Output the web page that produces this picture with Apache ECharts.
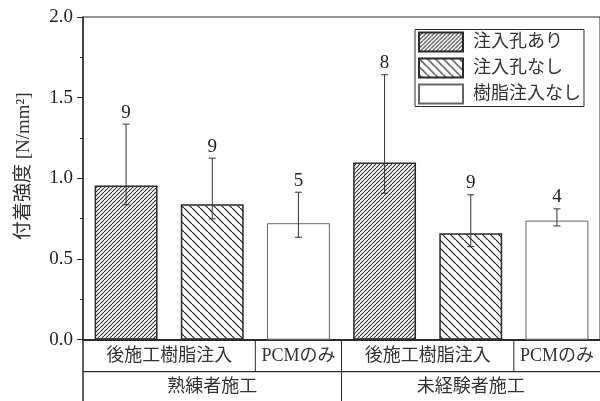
<!DOCTYPE html>
<html>
<head>
<meta charset="utf-8">
<script src="https://cdn.jsdelivr.net/npm/echarts@6/dist/echarts.min.js"></script>
<style>
  html, body { margin: 0; padding: 0; background: #fff; }
  #chart { width: 600px; height: 401px; }
</style>
</head>
<body>
<div id="chart"></div>
<script>
// Bond strength by construction group and method
const categories = [
  '熟練者施工・注入孔あり', '熟練者施工・注入孔なし', '熟練者施工・樹脂注入なし',
  '未経験者施工・注入孔あり', '未経験者施工・注入孔なし', '未経験者施工・樹脂注入なし'
];
const seriesNames = ['注入孔あり', '注入孔なし', '樹脂注入なし'];
const holeValues   = [0.955, '-', '-', 1.098, '-', '-'];
const noHoleValues = ['-', 0.840, '-', '-', 0.660, '-'];
const pcmValues    = ['-', '-', 0.722, '-', '-', 0.738];
const errLow  = [0.836, 0.749, 0.635, 0.908, 0.577, 0.705];
const errHigh = [1.336, 1.125, 0.914, 1.642, 0.898, 0.811];
const counts  = [9, 9, 5, 8, 9, 4];
const subLabels = ['後施工樹脂注入', 'PCMのみ', '後施工樹脂注入', 'PCMのみ'];
const subSpans  = [2, 1, 2, 1];
const groupLabels = ['熟練者施工', '未経験者施工'];
const groupSpans  = [3, 3];
const yTicks = [0, 0.5, 1.0, 1.5, 2.0];
const yTitle = '付着強度 [N/mm²]';

const FONT = '"Liberation Serif", "Noto Sans CJK JP", serif';
const INK = '#2a2a2a';

// Diagonal hatch tile: dir 1 = "/", dir -1 = "\"
function hatch(period, dir, lineW, color) {
  const c = document.createElement('canvas');
  c.width = period; c.height = period;
  const g = c.getContext('2d');
  g.fillStyle = '#fff';
  g.fillRect(0, 0, period, period);
  g.strokeStyle = color;
  g.lineWidth = lineW;
  g.beginPath();
  for (let k = -1; k <= 1; k++) {
    if (dir > 0) { g.moveTo(k * period, period); g.lineTo(k * period + period, 0); }
    else { g.moveTo(k * period, 0); g.lineTo(k * period + period, period); }
  }
  g.stroke();
  return { image: c, repeat: 'repeat' };
}

const chart = echarts.init(document.getElementById('chart'), null, { renderer: 'canvas' });

const barCommon = {
  type: 'bar',
  barWidth: '73%',
  barGap: '-100%',
  z: 2
};

const errorData = categories.map((_, i) => [i, errLow[i], errHigh[i], counts[i]]);

chart.setOption({
  animation: false,
  grid: {
    left: 83, right: -2, top: 17, bottom: 61.3,
    show: true, borderColor: INK, borderWidth: 1, backgroundColor: 'transparent'
  },
  legend: {
    orient: 'vertical',
    left: 415, top: 29.5,
    padding: [2, 3, 2, 3],
    itemWidth: 44, itemHeight: 19, itemGap: 5,
    icon: 'rect',
    borderColor: INK, borderWidth: 1,
    data: seriesNames,
    textStyle: { fontFamily: FONT, fontSize: 18, color: '#333', padding: [0, 0, 0, 5] }
  },
  xAxis: {
    type: 'category',
    data: categories,
    axisLine: { lineStyle: { color: INK, width: 2 } },
    axisTick: { show: false },
    axisLabel: { show: false },
    splitLine: { show: false }
  },
  yAxis: {
    type: 'value',
    min: 0, max: 2.0, interval: 0.5,
    axisLine: { show: true, lineStyle: { color: INK, width: 1.5 } },
    axisTick: { show: true, inside: false, length: 6, lineStyle: { color: INK } },
    minorTick: { show: true, splitNumber: 2, length: 3, lineStyle: { color: INK } },
    splitLine: { show: false },
    axisLabel: {
      fontFamily: FONT, fontSize: 19, color: '#222', margin: 10,
      formatter: v => yTicks.includes(v) ? v.toFixed(1) : ''
    }
  },
  series: [
    Object.assign({}, barCommon, {
      name: seriesNames[0], data: holeValues,
      itemStyle: { color: hatch(4, 1, 1.1, '#333'), borderColor: INK, borderWidth: 1.5 }
    }),
    Object.assign({}, barCommon, {
      name: seriesNames[1], data: noHoleValues,
      itemStyle: { color: hatch(8, -1, 1.2, '#222'), borderColor: INK, borderWidth: 1.5 }
    }),
    Object.assign({}, barCommon, {
      name: seriesNames[2], data: pcmValues,
      itemStyle: { color: '#fff', borderColor: '#666', borderWidth: 1 }
    }),
    {
      type: 'custom',
      name: 'error',
      z: 5,
      data: errorData,
      renderItem: (params, api) => {
        const idx = api.value(0);
        const lo = api.coord([idx, api.value(1)]);
        const hi = api.coord([idx, api.value(2)]);
        const cap = 3.5;
        const st = { stroke: '#333', lineWidth: 1 };
        return {
          type: 'group',
          children: [
            { type: 'line', shape: { x1: hi[0], y1: hi[1], x2: lo[0], y2: lo[1] }, style: st },
            { type: 'line', shape: { x1: hi[0] - cap, y1: hi[1], x2: hi[0] + cap, y2: hi[1] }, style: st },
            { type: 'line', shape: { x1: lo[0] - cap, y1: lo[1], x2: lo[0] + cap, y2: lo[1] }, style: st },
            { type: 'text', style: {
                text: String(api.value(3)), x: hi[0], y: hi[1] - 2,
                align: 'center', verticalAlign: 'bottom',
                font: '19px ' + FONT, fill: '#222'
            } }
          ]
        };
      }
    }
  ]
});

// Two-row category table under the x axis, plus the rotated y title
function drawTable() {
  const px = i => chart.convertToPixel({ xAxisIndex: 0 }, i);
  const slotW = px(1) - px(0);
  const edge = i => px(0) - slotW / 2 + i * slotW;
  const y0 = chart.convertToPixel({ yAxisIndex: 0 }, 0);
  const rowH = 32;
  const right = edge(categories.length);
  const els = [];
  const ln = (x1, y1, x2, y2, w) => els.push({
    type: 'line', shape: { x1, y1, x2, y2 }, style: { stroke: INK, lineWidth: w || 1 }, silent: true
  });
  const txt = (t, x, y) => els.push({
    type: 'text', silent: true,
    style: { text: t, x, y, align: 'center', verticalAlign: 'middle', font: '18px ' + FONT, fill: '#333' }
  });

  ln(edge(0), y0, edge(0), y0 + rowH * 2 + 2, 1.5);
  ln(edge(0), y0 + rowH, right, y0 + rowH, 1.2);

  let s = 0;
  subLabels.forEach((lab, k) => {
    const a = s, b = s + subSpans[k];
    txt(lab, (edge(a) + edge(b)) / 2, y0 + rowH / 2 + 1);
    if (b < categories.length) ln(edge(b), y0, edge(b), y0 + rowH, 1);
    s = b;
  });
  s = 0;
  groupLabels.forEach((lab, k) => {
    const a = s, b = s + groupSpans[k];
    txt(lab, (edge(a) + edge(b)) / 2, y0 + rowH * 1.5);
    if (b < categories.length) ln(edge(b), y0 + rowH, edge(b), y0 + rowH * 2 + 2, 1);
    s = b;
  });

  els.push({
    type: 'text', silent: true,
    x: 24, y: chart.convertToPixel({ yAxisIndex: 0 }, 1.075),
    rotation: Math.PI / 2,
    style: { text: yTitle, x: 0, y: 0, align: 'center', verticalAlign: 'middle', font: '19px ' + FONT, fill: '#333' }
  });
  chart.setOption({ graphic: { elements: els } });
}
drawTable();
</script>
</body>
</html>
